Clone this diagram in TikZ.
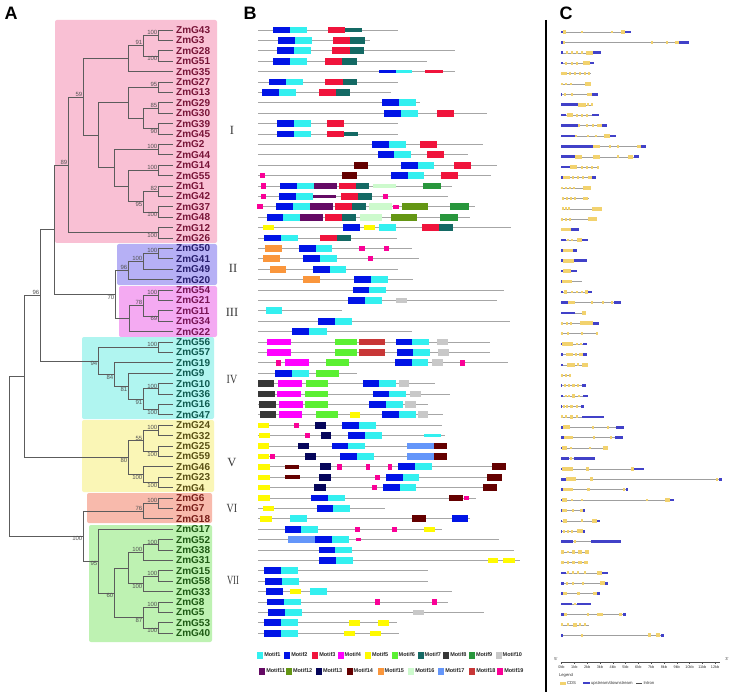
\documentclass[tikz,border=0pt]{standalone}
\usepackage{fontspec}
\setmainfont{Liberation Sans}
\newfontfamily\romfont{Liberation Serif}
\usetikzlibrary{calc}
\definecolor{mc1}{RGB}{51,240,240}
\definecolor{mc2}{RGB}{0,20,230}
\definecolor{mc3}{RGB}{240,20,60}
\definecolor{mc4}{RGB}{255,0,255}
\definecolor{mc5}{RGB}{255,250,0}
\definecolor{mc6}{RGB}{90,240,50}
\definecolor{mc7}{RGB}{20,105,100}
\definecolor{mc8}{RGB}{55,55,55}
\definecolor{mc9}{RGB}{40,150,60}
\definecolor{mc10}{RGB}{200,200,200}
\definecolor{mc11}{RGB}{100,10,100}
\definecolor{mc12}{RGB}{100,150,20}
\definecolor{mc13}{RGB}{5,5,90}
\definecolor{mc14}{RGB}{100,0,0}
\definecolor{mc15}{RGB}{250,150,60}
\definecolor{mc16}{RGB}{205,250,205}
\definecolor{mc17}{RGB}{100,150,250}
\definecolor{mc18}{RGB}{200,55,55}
\definecolor{mc19}{RGB}{250,0,150}
\definecolor{bgI}{RGB}{249,192,212}
\definecolor{bgII}{RGB}{182,176,245}
\definecolor{bgIII}{RGB}{244,170,242}
\definecolor{bgIV}{RGB}{176,245,240}
\definecolor{bgV}{RGB}{250,246,182}
\definecolor{bgVI}{RGB}{248,186,172}
\definecolor{bgVII}{RGB}{190,242,178}
\definecolor{tI}{RGB}{120,20,55}
\definecolor{tII}{RGB}{40,30,110}
\definecolor{tIII}{RGB}{120,20,85}
\definecolor{tIV}{RGB}{15,90,80}
\definecolor{tV}{RGB}{90,80,20}
\definecolor{tVI}{RGB}{120,30,25}
\definecolor{tVII}{RGB}{30,90,20}
\definecolor{cdsc}{RGB}{242,210,110}
\definecolor{utrc}{RGB}{65,65,200}
\newcommand\Mbx[4]{\fill[mc#4] (#2,{30+10.4*(#1)-3.4}) rectangle (#3,{30+10.4*(#1)+3.4});}
\newcommand\Msm[4]{\fill[mc#4] (#2,{30+10.4*(#1)-2.7}) rectangle (#3,{30+10.4*(#1)+2.7});}
\newcommand\Mth[4]{\fill[mc#4] (#2,{30+10.4*(#1)-1.8}) rectangle (#3,{30+10.4*(#1)+1.8});}
\newcommand\Mln[2]{\draw[mln] (258,{30+10.4*(#1)}) -- (#2,{30+10.4*(#1)});}
\newcommand\Gi[3]{\draw[intr] ({540+#2/3},{32+10.4*(#1)}) -- ({540+#3/3},{32+10.4*(#1)});}
\newcommand\Gu[3]{\fill[utrc] ({540+#2/3},{32+10.4*(#1)-1.3}) rectangle ({540+#3/3},{32+10.4*(#1)+1.3});}
\newcommand\Gc[3]{\fill[cdsc] ({540+#2/3},{32+10.4*(#1)-1.8}) rectangle ({540+#3/3},{32+10.4*(#1)+1.8});}
\newcommand\Gs[2]{\fill[cdsc] ({540+#2/3-1},{32+10.4*(#1)-1.4}) rectangle ({540+#2/3+1},{32+10.4*(#1)+1.4});}
\tikzset{
  br/.style={draw=gray!72!black, line width=0.7pt},
  lf/.style={font=\fontsize{10}{10}\selectfont\bfseries, inner sep=0pt, anchor=west},
  bs/.style={font=\fontsize{6}{6}\selectfont, text=gray!65!black, inner sep=0.5pt},
  rom/.style={font=\romfont\fontsize{12.5}{12.5}\selectfont, text=gray!45!black},
  pl/.style={font=\bfseries\fontsize{18}{18}\selectfont, inner sep=0pt},
  mln/.style={draw=gray!70, line width=0.8pt},
  intr/.style={draw=gray!75, line width=0.5pt},
  tiny/.style={font=\fontsize{4.2}{4.2}\selectfont, text=gray!40!black, inner sep=0.3pt},
  lg/.style={font=\bfseries\fontsize{5.5}{5.5}\selectfont, text=gray!30!black, inner sep=0.3pt, anchor=west},
  bgbox/.style={rounded corners=2pt}
}
\begin{document}
\begin{tikzpicture}[x=1pt,y=-1pt]
\useasboundingbox (0,0) rectangle (731,695);
\fill[white] (0,0) rectangle (731,695);
% panel letters
\node[pl] (pA) at (11,13) {A};
\node[pl] (pB) at (250,13) {B};
\node[pl] (pC) at (566,13) {C};
% clade backgrounds
\fill[bgI,bgbox] (55,20) rectangle (217,243);
\fill[bgII,bgbox] (117,244) rectangle (217,285);
\fill[bgIII,bgbox] (119,286) rectangle (217,337);
\fill[bgIV,bgbox] (82,337) rectangle (214,419);
\fill[bgV,bgbox] (82,420) rectangle (214,492);
\fill[bgVI,bgbox] (87,493) rectangle (212,523);
\fill[bgVII,bgbox] (89,525) rectangle (212,642);
% leaves
\foreach \i in {0,...,58} \coordinate (L\i) at (173,{30+10.4*\i});
\foreach \i/\nm/\cl in {0/ZmG43/tI,1/ZmG3/tI,2/ZmG28/tI,3/ZmG51/tI,4/ZmG35/tI,5/ZmG27/tI,6/ZmG13/tI,7/ZmG29/tI,8/ZmG30/tI,9/ZmG39/tI,10/ZmG45/tI,11/ZmG2/tI,12/ZmG44/tI,13/ZmG14/tI,14/ZmG55/tI,15/ZmG1/tI,16/ZmG42/tI,17/ZmG37/tI,18/ZmG48/tI,19/ZmG12/tI,20/ZmG26/tI,
21/ZmG50/tII,22/ZmG41/tII,23/ZmG49/tII,24/ZmG20/tII,
25/ZmG54/tIII,26/ZmG21/tIII,27/ZmG11/tIII,28/ZmG34/tIII,29/ZmG22/tIII,
30/ZmG56/tIV,31/ZmG57/tIV,32/ZmG19/tIV,33/ZmG9/tIV,34/ZmG10/tIV,35/ZmG36/tIV,36/ZmG16/tIV,37/ZmG47/tIV,
38/ZmG24/tV,39/ZmG32/tV,40/ZmG25/tV,41/ZmG59/tV,42/ZmG46/tV,43/ZmG23/tV,44/ZmG4/tV,
45/ZmG6/tVI,46/ZmG7/tVI,47/ZmG18/tVI,
48/ZmG17/tVII,49/ZmG52/tVII,50/ZmG38/tVII,51/ZmG31/tVII,52/ZmG15/tVII,53/ZmG58/tVII,54/ZmG33/tVII,55/ZmG8/tVII,56/ZmG5/tVII,57/ZmG53/tVII,58/ZmG40/tVII}
  \node[lf, text=\cl] (T\i) at (176,{30+10.4*\i}) {\nm};
% internal nodes
\coordinate (n1) at (158,35.2);
\coordinate (n2) at (158,56);
\coordinate (n3) at (143,45.6);
\coordinate (n4) at (128,58.6);
\coordinate (n5) at (158,87.2);
\coordinate (n6) at (158,108);
\coordinate (n7) at (158,128.8);
\coordinate (n8) at (143,118.4);
\coordinate (n9) at (128,102.8);
\coordinate (n10) at (158,149.6);
\coordinate (n11) at (158,170.4);
\coordinate (n12) at (158,191.2);
\coordinate (n13) at (158,212);
\coordinate (n14) at (143,201.6);
\coordinate (n15) at (128,186);
\coordinate (n16) at (114,167.8);
\coordinate (n17) at (98,135.3);
\coordinate (n18) at (83,96.95);
\coordinate (n19) at (158,232.8);
\coordinate (nA) at (68,164.9);
\coordinate (n20) at (158,253.6);
\coordinate (n21) at (143,261.4);
\coordinate (nII) at (128,270.5);
\coordinate (n22) at (158,295.2);
\coordinate (n23) at (158,316);
\coordinate (n24) at (143,305.6);
\coordinate (nIII) at (129,318.6);
\coordinate (nC) at (115,294.5);
\coordinate (nB) at (54,229.7);
\coordinate (n25) at (158,347.2);
\coordinate (n26) at (158,388.8);
\coordinate (n27) at (158,409.6);
\coordinate (n28) at (143,399.2);
\coordinate (n29) at (128,386.2);
\coordinate (n30) at (114,374.5);
\coordinate (nIV) at (98,360.9);
\coordinate (nX40) at (40,295.3);
\coordinate (n31) at (158,430.4);
\coordinate (n32) at (158,451.2);
\coordinate (n33) at (143,440.8);
\coordinate (n34) at (158,482.4);
\coordinate (n35) at (143,474.6);
\coordinate (nV) at (128,457.7);
\coordinate (nX24) at (24,376.5);
\coordinate (n36) at (158,503.2);
\coordinate (nVI) at (143,510.9);
\coordinate (n37) at (158,544.8);
\coordinate (n38) at (143,552.6);
\coordinate (n39) at (158,576);
\coordinate (n40) at (143,583.8);
\coordinate (n41) at (128,568.2);
\coordinate (n42) at (158,607.2);
\coordinate (n43) at (158,628);
\coordinate (n44) at (143,617.6);
\coordinate (n45) at (114,592.9);
\coordinate (nVII) at (98,561);
\coordinate (nX83) at (83,536);
\coordinate (root) at (9,456.3);
\foreach \p/\c in {n1/L0,n1/L1,n2/L2,n2/L3,n3/n1,n3/n2,n4/n3,n4/L4,n5/L5,n5/L6,n6/L7,n6/L8,n7/L9,n7/L10,n8/n6,n8/n7,n9/n5,n9/n8,
 n10/L11,n10/L12,n11/L13,n11/L14,n12/L15,n12/L16,n13/L17,n13/L18,n14/n12,n14/n13,n15/n11,n15/n14,n16/n10,n16/n15,n17/n9,n17/n16,
 n18/n4,n18/n17,n19/L19,n19/L20,nA/n18,nA/n19,
 n20/L21,n20/L22,n21/n20,n21/L23,nII/n21,nII/L24,
 n22/L25,n22/L26,n23/L27,n23/L28,n24/n22,n24/n23,nIII/n24,nIII/L29,nC/nII,nC/nIII,nB/nA,nB/nC,
 n25/L30,n25/L31,n26/L34,n26/L35,n27/L36,n27/L37,n28/n26,n28/n27,n29/L33,n29/n28,n30/L32,n30/n29,nIV/n25,nIV/n30,nX40/nB,nX40/nIV,
 n31/L38,n31/L39,n32/L40,n32/L41,n33/n31,n33/n32,n34/L43,n34/L44,n35/L42,n35/n34,nV/n33,nV/n35,nX24/nX40,nX24/nV,
 n36/L45,n36/L46,nVI/n36,nVI/L47,
 n37/L49,n37/L50,n38/n37,n38/L51,n39/L52,n39/L53,n40/n39,n40/L54,n41/n38,n41/n40,n42/L55,n42/L56,n43/L57,n43/L58,n44/n42,n44/n43,n45/n41,n45/n44,nVII/L48,nVII/n45,nX83/nVI,nX83/nVII,
 root/nX24,root/nX83}
  \draw[br] (\p) |- (\c);
% bootstrap values
\foreach \n/\t in {n1/100,n3/91,n5/95,n6/85,n10/100,n11/100,n12/82,n18/59,nA/89,n20/100,n21/100,nII/96,n22/100,n24/78,nX40/96,n25/100,n26/100,n31/100,n33/55,n36/100,nVI/76,n37/100,n38/100,n39/100,n42/100}
  \node[bs, above left] at (\n) {\t};
\foreach \n/\t in {n2/100,n7/90,n13/100,n14/95,n19/100,n23/69,nC/70,n27/100,n28/91,n29/81,n30/84,nIV/94,n32/100,nV/80,n35/100,n34/100,n40/100,n43/100,n44/87,n45/60,nVII/95,nX83/100}
  \node[bs, below left] at (\n) {\t};
% roman numerals
\node[rom] (rI) at (232,130) {I};
\node[rom] (rII) at (233,268) {II};
\node[rom] (rIII) at (232,312) {III};
\node[rom] (rIV) at (232,380) {\scalebox{0.8}[1]{IV}};
\node[rom] (rV) at (232,462) {V};
\node[rom] (rVI) at (232,508) {\scalebox{0.8}[1]{VI}};
\node[rom] (rVII) at (233,580) {\scalebox{0.68}[1]{VII}};
% ===== panel B motifs =====
\Mln{0}{398}\Mbx{0}{273}{290}{2}\Mbx{0}{290}{307}{1}\Mbx{0}{328}{345}{3}\Mth{0}{345}{362}{7}
\Mln{1}{370}\Mbx{1}{278}{295}{2}\Mbx{1}{295}{312}{1}\Mbx{1}{333}{350}{3}\Mbx{1}{350}{365}{7}
\Mln{2}{455}\Mbx{2}{277}{294}{2}\Mbx{2}{294}{311}{1}\Mbx{2}{332}{350}{3}\Mbx{2}{350}{364}{7}
\Mln{3}{427}\Mbx{3}{273}{290}{2}\Mbx{3}{290}{307}{1}\Mbx{3}{325}{342}{3}\Mbx{3}{342}{357}{7}
\Mln{4}{455}\Mth{4}{379}{396}{2}\Mth{4}{396}{412}{1}\Mth{4}{425}{443}{3}
\Mln{5}{398}\Mbx{5}{269}{286}{2}\Mbx{5}{286}{303}{1}\Mbx{5}{325}{343}{3}\Mbx{5}{343}{357}{7}
\Mln{6}{391}\Mbx{6}{262}{279}{2}\Mbx{6}{279}{296}{1}\Mbx{6}{319}{336}{3}\Mbx{6}{336}{350}{7}
\Mln{7}{420}\Mbx{7}{382}{399}{2}\Mbx{7}{399}{416}{1}
\Mln{8}{487}\Mbx{8}{384}{401}{2}\Mbx{8}{401}{418}{1}\Mbx{8}{437}{454}{3}
\Mln{9}{398}\Mbx{9}{277}{294}{2}\Mbx{9}{294}{311}{1}\Mbx{9}{327}{344}{3}
\Mln{10}{398}\Mbx{10}{277}{294}{2}\Mbx{10}{294}{311}{1}\Mbx{10}{327}{344}{3}\Mth{10}{344}{358}{7}
\Mln{11}{483}\Mbx{11}{372}{389}{2}\Mbx{11}{389}{406}{1}\Mbx{11}{420}{437}{3}
\Mln{12}{468}\Mbx{12}{378}{394}{2}\Mbx{12}{394}{411}{1}\Mbx{12}{427}{444}{3}
\Mln{13}{497}\Mbx{13}{354}{368}{14}\Mbx{13}{401}{418}{2}\Mbx{13}{418}{434}{1}\Mbx{13}{454}{471}{3}
\Mln{14}{491}\Msm{14}{260}{265}{19}\Mbx{14}{342}{357}{14}\Mbx{14}{391}{408}{2}\Mbx{14}{408}{424}{1}\Mbx{14}{441}{458}{3}
\Mln{15}{452}\Msm{15}{261}{266}{19}\Mbx{15}{280}{297}{2}\Mbx{15}{297}{314}{1}\Mbx{15}{314}{337}{11}\Mbx{15}{339}{356}{3}\Mbx{15}{356}{369}{7}\Mth{15}{373}{396}{16}\Mbx{15}{423}{441}{9}
\Mln{16}{448}\Msm{16}{261}{266}{19}\Mbx{16}{279}{296}{2}\Mbx{16}{296}{313}{1}\Mth{16}{313}{336}{11}\Mbx{16}{341}{358}{3}\Mbx{16}{358}{372}{7}\Msm{16}{383}{388}{19}
\Mln{17}{475}\Msm{17}{257}{263}{19}\Mbx{17}{276}{293}{2}\Mbx{17}{293}{310}{1}\Mbx{17}{310}{333}{11}\Mbx{17}{335}{352}{3}\Mbx{17}{352}{366}{7}\Mbx{17}{369}{392}{16}\Mth{17}{393}{399}{19}\Mbx{17}{402}{428}{12}\Mbx{17}{450}{469}{9}
\Mln{18}{470}\Mbx{18}{267}{283}{2}\Mbx{18}{283}{300}{1}\Mbx{18}{300}{323}{11}\Mbx{18}{325}{342}{3}\Mbx{18}{342}{356}{7}\Mbx{18}{360}{382}{16}\Mbx{18}{391}{417}{12}\Mbx{18}{440}{458}{9}
\Mln{19}{511}\Msm{19}{263}{274}{5}\Mbx{19}{343}{360}{2}\Msm{19}{364}{375}{5}\Mbx{19}{379}{396}{1}\Mbx{19}{422}{439}{3}\Mbx{19}{439}{453}{7}
\Mln{20}{397}\Mbx{20}{264}{281}{2}\Mbx{20}{281}{298}{1}\Mbx{20}{320}{337}{3}\Mbx{20}{337}{351}{7}
\Mln{21}{412}\Mbx{21}{265}{282}{15}\Mbx{21}{299}{316}{2}\Mbx{21}{316}{332}{1}\Msm{21}{359}{365}{19}\Msm{21}{384}{389}{19}
\Mln{22}{419}\Mbx{22}{263}{280}{15}\Mbx{22}{303}{320}{2}\Mbx{22}{320}{337}{1}\Msm{22}{368}{373}{19}
\Mln{23}{398}\Mbx{23}{270}{286}{15}\Mbx{23}{313}{330}{2}\Mbx{23}{330}{346}{1}
\Mln{24}{413}\Mbx{24}{303}{320}{15}\Mbx{24}{354}{371}{2}\Mbx{24}{371}{388}{1}
\Mln{25}{504}\Mbx{25}{353}{369}{2}\Mbx{25}{369}{386}{1}
\Mln{26}{497}\Mbx{26}{348}{365}{2}\Mbx{26}{365}{382}{1}\Msm{26}{396}{407}{10}
\Mln{27}{342}\Mbx{27}{266}{282}{1}
\Mln{28}{510}\Mbx{28}{318}{335}{2}\Mbx{28}{335}{352}{1}
\Mln{29}{412}\Mbx{29}{292}{309}{2}\Mbx{29}{309}{327}{1}
\Mln{30}{490}\Mbx{30}{267}{291}{4}\Mbx{30}{335}{357}{6}\Mbx{30}{359}{385}{18}\Mbx{30}{396}{412}{2}\Mbx{30}{412}{429}{1}\Mbx{30}{437}{448}{10}
\Mln{31}{490}\Mbx{31}{267}{291}{4}\Mbx{31}{335}{357}{6}\Mbx{31}{359}{385}{18}\Mbx{31}{397}{413}{2}\Mbx{31}{413}{430}{1}\Mbx{31}{438}{449}{10}
\Mln{32}{508}\Msm{32}{276}{281}{19}\Mbx{32}{285}{309}{4}\Mbx{32}{326}{349}{6}\Mbx{32}{395}{412}{2}\Mbx{32}{412}{428}{1}\Mbx{32}{432}{443}{10}\Msm{32}{460}{465}{19}
\Mln{33}{357}\Mbx{33}{275}{292}{2}\Mbx{33}{292}{309}{1}\Mbx{33}{316}{339}{6}
\Mln{34}{435}\Mbx{34}{258}{274}{8}\Mbx{34}{278}{302}{4}\Mbx{34}{306}{328}{6}\Mbx{34}{363}{379}{2}\Mbx{34}{379}{396}{1}\Mbx{34}{399}{409}{10}
\Mln{35}{450}\Mbx{35}{258}{275}{8}\Mbx{35}{277}{301}{4}\Mbx{35}{305}{328}{6}\Mbx{35}{373}{389}{2}\Mbx{35}{389}{406}{1}\Mbx{35}{410}{421}{10}
\Mln{36}{428}\Mbx{36}{259}{276}{8}\Mbx{36}{279}{303}{4}\Mbx{36}{305}{328}{6}\Mbx{36}{369}{386}{2}\Mbx{36}{386}{403}{1}\Mbx{36}{405}{416}{10}
\Mln{37}{443}\Mbx{37}{260}{276}{8}\Mbx{37}{279}{302}{4}\Mbx{37}{316}{338}{6}\Msm{37}{350}{360}{5}\Mbx{37}{382}{399}{2}\Mbx{37}{399}{416}{1}\Mbx{37}{418}{428}{10}
\Mln{38}{442}\Msm{38}{258}{269}{5}\Msm{38}{294}{299}{19}\Mbx{38}{315}{326}{13}\Mbx{38}{342}{359}{2}\Mbx{38}{359}{376}{1}
\Mln{39}{445}\Msm{39}{259}{270}{5}\Msm{39}{305}{310}{19}\Mbx{39}{321}{331}{13}\Mbx{39}{348}{365}{2}\Mbx{39}{365}{382}{1}\Mth{39}{424}{441}{1}
\Mln{40}{447}\Msm{40}{258}{269}{5}\Mbx{40}{298}{309}{13}\Mbx{40}{332}{348}{2}\Mbx{40}{348}{365}{1}\Mbx{40}{407}{434}{17}\Mbx{40}{434}{447}{14}
\Mln{41}{447}\Msm{41}{258}{269}{5}\Msm{41}{270}{275}{19}\Mbx{41}{305}{316}{13}\Mbx{41}{340}{357}{2}\Mbx{41}{357}{374}{1}\Mbx{41}{407}{434}{17}\Mbx{41}{434}{447}{14}
\Mln{42}{506}\Msm{42}{258}{270}{5}\Mth{42}{285}{299}{14}\Mbx{42}{320}{331}{13}\Msm{42}{337}{342}{19}\Msm{42}{366}{370}{19}\Msm{42}{388}{392}{19}\Mbx{42}{398}{415}{2}\Mbx{42}{415}{432}{1}\Mbx{42}{492}{506}{14}
\Mln{43}{502}\Msm{43}{258}{270}{5}\Mth{43}{285}{300}{14}\Mbx{43}{319}{331}{13}\Msm{43}{375}{380}{19}\Mbx{43}{386}{403}{2}\Mbx{43}{403}{419}{1}\Mbx{43}{487}{502}{14}
\Mln{44}{497}\Msm{44}{258}{270}{5}\Mbx{44}{314}{326}{13}\Msm{44}{372}{377}{19}\Mbx{44}{383}{400}{2}\Mbx{44}{400}{416}{1}\Mbx{44}{483}{497}{14}
\Mln{45}{476}\Msm{45}{258}{270}{5}\Mbx{45}{311}{328}{2}\Mbx{45}{328}{345}{1}\Mbx{45}{449}{463}{14}\Mth{45}{464}{469}{19}
\Mln{46}{385}\Msm{46}{263}{274}{5}\Mbx{46}{317}{333}{2}\Mbx{46}{333}{350}{1}
\Mln{47}{470}\Msm{47}{260}{272}{5}\Mbx{47}{290}{307}{1}\Mbx{47}{412}{426}{14}\Mbx{47}{452}{468}{2}
\Mln{48}{442}\Mbx{48}{285}{301}{2}\Mbx{48}{301}{318}{1}\Msm{48}{355}{360}{19}\Msm{48}{392}{397}{19}\Msm{48}{424}{435}{5}
\Mln{49}{499}\Mbx{49}{288}{315}{17}\Mbx{49}{315}{332}{2}\Mbx{49}{332}{349}{1}\Mth{49}{356}{361}{19}
\Mln{50}{514}\Mbx{50}{319}{335}{2}\Mbx{50}{335}{352}{1}
\Mln{51}{520}\Mbx{51}{319}{336}{2}\Mbx{51}{336}{353}{1}\Msm{51}{488}{498}{5}\Msm{51}{503}{515}{5}
\Mln{52}{428}\Mbx{52}{264}{281}{2}\Mbx{52}{281}{298}{1}
\Mln{53}{428}\Mbx{53}{265}{282}{2}\Mbx{53}{282}{299}{1}
\Mln{54}{452}\Mbx{54}{266}{283}{2}\Msm{54}{290}{301}{5}\Mbx{54}{310}{327}{1}
\Mln{55}{448}\Mbx{55}{267}{284}{2}\Mbx{55}{284}{301}{1}\Msm{55}{375}{380}{19}\Msm{55}{432}{437}{19}
\Mln{56}{484}\Mbx{56}{268}{285}{2}\Mbx{56}{285}{302}{1}\Msm{56}{413}{424}{10}
\Mln{57}{397}\Mbx{57}{264}{281}{2}\Mbx{57}{281}{298}{1}\Msm{57}{349}{360}{5}\Msm{57}{378}{389}{5}
\Mln{58}{399}\Mbx{58}{264}{281}{2}\Mbx{58}{281}{298}{1}\Msm{58}{344}{355}{5}\Msm{58}{370}{381}{5}
% motif legend
\foreach \k/\x in {1/257.3,2/284.3,3/312.3,4/337.7,5/365,6/391.7,7/417.7,8/443.3,9/469,10/495.7}{
  \fill[mc\k] (\x,651.5) rectangle ++(6,7);
  \node[lg] (lgA\k) at (\x+6.5,655) {Motif\k};}
\foreach \k/\x in {11/259.3,12/286,13/316,14/346.7,15/377.7,16/408.3,17/438.3,18/469.3,19/497.3}{
  \fill[mc\k] (\x,667.5) rectangle ++(6,7);
  \node[lg] (lgB\k) at (\x+6.5,671) {Motif\k};}
% separator
\draw[black, line width=1.6pt] (546,20) -- (546,692);
% ===== panel C gene structures =====
\Gi{0}{62}{272}\Gu{0}{62}{68}\Gc{0}{68}{78}\Gs{0}{125}\Gs{0}{215}\Gc{0}{243}{255}\Gu{0}{255}{272}
\Gi{1}{62}{448}\Gu{1}{62}{70}\Gc{1}{70}{76}\Gs{1}{335}\Gs{1}{380}\Gc{1}{405}{418}\Gu{1}{418}{448}
\Gi{2}{62}{182}\Gu{2}{62}{70}\Gs{2}{80}\Gs{2}{95}\Gs{2}{112}\Gs{2}{125}\Gc{2}{138}{160}\Gu{2}{160}{182}
\Gi{3}{62}{162}\Gu{3}{62}{68}\Gs{3}{78}\Gs{3}{95}\Gs{3}{112}\Gc{3}{128}{150}\Gu{3}{150}{162}
\Gi{4}{62}{152}\Gc{4}{62}{82}\Gs{4}{90}\Gs{4}{105}\Gs{4}{120}\Gs{4}{135}\Gs{4}{148}
\Gi{5}{62}{152}\Gs{5}{65}\Gs{5}{78}\Gs{5}{92}\Gc{5}{135}{152}
\Gi{6}{62}{175}\Gu{6}{62}{66}\Gs{6}{75}\Gs{6}{95}\Gc{6}{140}{157}\Gu{6}{157}{175}
\Gi{7}{62}{158}\Gu{7}{62}{115}\Gc{7}{115}{138}\Gs{7}{145}\Gs{7}{155}
\Gi{8}{62}{177}\Gu{8}{62}{78}\Gc{8}{80}{100}\Gs{8}{110}\Gs{8}{125}\Gs{8}{140}\Gu{8}{155}{177}
\Gi{9}{62}{200}\Gu{9}{62}{115}\Gs{9}{118}\Gs{9}{140}\Gs{9}{158}\Gc{9}{172}{185}\Gu{9}{185}{200}
\Gi{10}{62}{227}\Gu{10}{62}{105}\Gs{10}{108}\Gs{10}{145}\Gs{10}{168}\Gc{10}{193}{210}\Gu{10}{210}{227}
\Gi{11}{62}{317}\Gu{11}{62}{160}\Gc{11}{160}{180}\Gs{11}{210}\Gs{11}{235}\Gc{11}{290}{302}\Gu{11}{302}{317}
\Gi{12}{62}{297}\Gu{12}{62}{105}\Gc{12}{105}{125}\Gc{12}{160}{180}\Gs{12}{235}\Gc{12}{265}{278}\Gu{12}{283}{297}
\Gi{13}{62}{177}\Gu{13}{62}{90}\Gc{13}{90}{112}\Gs{13}{125}\Gs{13}{140}\Gs{13}{155}\Gs{13}{175}
\Gi{14}{62}{167}\Gu{14}{62}{70}\Gc{14}{70}{90}\Gs{14}{100}\Gs{14}{115}\Gs{14}{130}\Gc{14}{145}{155}\Gu{14}{155}{167}
\Gi{15}{62}{152}\Gs{15}{66}\Gs{15}{78}\Gs{15}{90}\Gs{15}{102}\Gc{15}{130}{152}
\Gi{16}{65}{147}\Gs{16}{68}\Gs{16}{80}\Gs{16}{92}\Gs{16}{104}\Gc{16}{128}{145}
\Gi{17}{65}{185}\Gs{17}{68}\Gs{17}{78}\Gs{17}{88}\Gc{17}{155}{185}
\Gi{18}{62}{172}\Gs{18}{66}\Gs{18}{78}\Gs{18}{90}\Gc{18}{145}{172}
\Gi{19}{62}{118}\Gc{19}{62}{92}\Gu{19}{92}{118}
\Gi{20}{62}{145}\Gu{20}{62}{78}\Gs{20}{85}\Gs{20}{97}\Gc{20}{112}{125}\Gu{20}{125}{145}
\Gi{21}{62}{112}\Gu{21}{62}{68}\Gc{21}{68}{100}\Gu{21}{100}{112}
\Gi{22}{62}{140}\Gu{22}{62}{68}\Gc{22}{68}{102}\Gu{22}{102}{140}
\Gi{23}{62}{112}\Gu{23}{62}{70}\Gc{23}{70}{92}\Gu{23}{92}{112}
\Gi{24}{62}{127}\Gu{24}{62}{65}\Gc{24}{65}{95}
\Gi{25}{62}{155}\Gu{25}{62}{70}\Gc{25}{72}{82}\Gs{25}{95}\Gs{25}{110}\Gs{25}{125}\Gc{25}{135}{145}\Gu{25}{145}{155}
\Gi{26}{62}{242}\Gu{26}{62}{85}\Gc{26}{85}{105}\Gs{26}{155}\Gs{26}{190}\Gs{26}{215}\Gu{26}{222}{242}
\Gi{27}{62}{137}\Gu{27}{62}{105}\Gc{27}{127}{137}
\Gi{28}{62}{177}\Gs{28}{66}\Gs{28}{80}\Gs{28}{92}\Gc{28}{120}{160}\Gu{28}{160}{177}
\Gi{29}{62}{172}\Gs{29}{66}\Gs{29}{85}\Gs{29}{125}\Gs{29}{170}
\Gi{30}{62}{140}\Gu{30}{62}{66}\Gc{30}{66}{100}\Gs{30}{110}\Gs{30}{122}\Gu{30}{130}{140}
\Gi{31}{62}{142}\Gu{31}{62}{68}\Gc{31}{78}{100}\Gs{31}{108}\Gc{31}{118}{128}\Gu{31}{130}{142}
\Gi{32}{62}{145}\Gu{32}{62}{70}\Gc{32}{80}{105}\Gs{32}{115}\Gc{32}{125}{145}
\Gi{33}{62}{92}\Gs{33}{66}\Gs{33}{78}\Gs{33}{90}
\Gi{34}{62}{138}\Gu{34}{62}{66}\Gs{34}{75}\Gs{34}{88}\Gc{34}{95}{105}\Gs{34}{115}\Gu{34}{125}{138}
\Gi{35}{62}{143}\Gu{35}{62}{68}\Gs{35}{78}\Gs{35}{88}\Gc{35}{95}{105}\Gs{35}{118}\Gu{35}{130}{143}
\Gi{36}{62}{133}\Gu{36}{62}{66}\Gs{36}{72}\Gs{36}{82}\Gc{36}{90}{100}\Gs{36}{110}\Gu{36}{122}{133}
\Gi{37}{62}{192}\Gs{37}{66}\Gs{37}{78}\Gc{37}{90}{100}\Gs{37}{112}\Gu{37}{125}{192}
\Gi{38}{62}{252}\Gu{38}{62}{68}\Gc{38}{68}{90}\Gs{38}{158}\Gs{38}{205}\Gu{38}{228}{252}
\Gi{39}{62}{250}\Gu{39}{62}{72}\Gc{39}{72}{98}\Gs{39}{162}\Gs{39}{212}\Gu{39}{225}{250}
\Gi{40}{62}{203}\Gu{40}{62}{66}\Gc{40}{66}{82}\Gs{40}{92}\Gs{40}{150}\Gc{40}{190}{203}
\Gi{41}{62}{165}\Gu{41}{62}{88}\Gs{41}{92}\Gu{41}{102}{165}
\Gi{42}{62}{312}\Gu{42}{62}{66}\Gc{42}{66}{100}\Gc{42}{138}{148}\Gc{42}{272}{282}\Gu{42}{282}{312}
\Gi{43}{62}{545}\Gu{43}{62}{78}\Gc{43}{78}{108}\Gc{43}{150}{160}\Gs{43}{530}\Gu{43}{538}{545}
\Gi{44}{62}{265}\Gu{44}{62}{70}\Gc{44}{70}{100}\Gc{44}{140}{150}\Gs{44}{252}\Gu{44}{258}{265}
\Gi{45}{62}{402}\Gu{45}{62}{66}\Gc{45}{66}{80}\Gs{45}{95}\Gs{45}{125}\Gs{45}{320}\Gc{45}{375}{390}\Gu{45}{390}{402}
\Gi{46}{62}{135}\Gu{46}{62}{66}\Gc{46}{66}{80}\Gs{46}{100}\Gc{46}{120}{130}\Gu{46}{130}{135}
\Gi{47}{62}{180}\Gu{47}{62}{66}\Gc{47}{70}{80}\Gs{47}{127}\Gc{47}{155}{172}\Gu{47}{172}{180}
\Gi{48}{62}{135}\Gu{48}{62}{66}\Gs{48}{72}\Gs{48}{85}\Gs{48}{95}\Gc{48}{110}{128}\Gu{48}{128}{135}
\Gi{49}{62}{243}\Gu{49}{62}{98}\Gs{49}{105}\Gu{49}{152}{243}
\Gi{50}{62}{148}\Gc{50}{62}{72}\Gs{50}{85}\Gc{50}{95}{105}\Gc{50}{115}{125}\Gc{50}{135}{148}
\Gi{51}{62}{145}\Gc{51}{62}{72}\Gs{51}{85}\Gc{51}{95}{105}\Gc{51}{115}{125}\Gc{51}{132}{145}
\Gi{52}{62}{203}\Gu{52}{62}{78}\Gs{52}{85}\Gs{52}{100}\Gs{52}{115}\Gs{52}{135}\Gc{52}{172}{185}\Gu{52}{185}{203}
\Gi{53}{62}{205}\Gu{53}{62}{72}\Gs{53}{80}\Gs{53}{100}\Gs{53}{130}\Gc{53}{180}{195}\Gu{53}{195}{205}
\Gi{54}{62}{180}\Gu{54}{62}{68}\Gc{54}{68}{82}\Gc{54}{110}{120}\Gc{54}{158}{172}\Gu{54}{172}{180}
\Gi{55}{62}{153}\Gu{55}{62}{95}\Gs{55}{105}\Gu{55}{110}{153}
\Gi{56}{62}{258}\Gu{56}{62}{72}\Gc{56}{72}{80}\Gs{56}{145}\Gc{56}{172}{190}\Gc{56}{237}{245}\Gu{56}{248}{258}
\Gi{57}{62}{148}\Gs{57}{66}\Gs{57}{85}\Gc{57}{100}{110}\Gs{57}{120}\Gs{57}{135}
\Gi{58}{62}{372}\Gu{58}{62}{68}\Gs{58}{125}\Gc{58}{325}{332}\Gc{58}{348}{360}\Gu{58}{362}{372}
% scale axis
\draw[gray!60!black, line width=0.5pt] (560.7,662.7) -- (720,662.7);
\foreach \k in {0,...,12}{
  \draw[gray!60!black, line width=0.4pt] ({561.5+12.8*\k},662.7) -- ++(0,1.3);
  \node[tiny, font=\fontsize{3.8}{3.8}\selectfont] (kb\k) at ({561.5+12.8*\k},667.3) {\k kb};}
\node[tiny] (p5) at (556,659.5) {5'};
\node[tiny] (p3) at (727,659.5) {3'};
\node[tiny, anchor=west] (lgd) at (558.5,675.5) {Legend};
\fill[cdsc] (560,681.5) rectangle (565.5,685);
\node[tiny, anchor=west] (lcds) at (566.5,683.2) {CDS};
\fill[utrc] (583,682.4) rectangle (590,684);
\node[tiny, anchor=west] (lutr) at (590.5,683.2) {upstream/downstream};
\draw[intr, draw=gray!60!black] (636,683.2) -- (642,683.2);
\node[tiny, anchor=west] (lint) at (643,683.2) {Intron};
\end{tikzpicture}
\end{document}
